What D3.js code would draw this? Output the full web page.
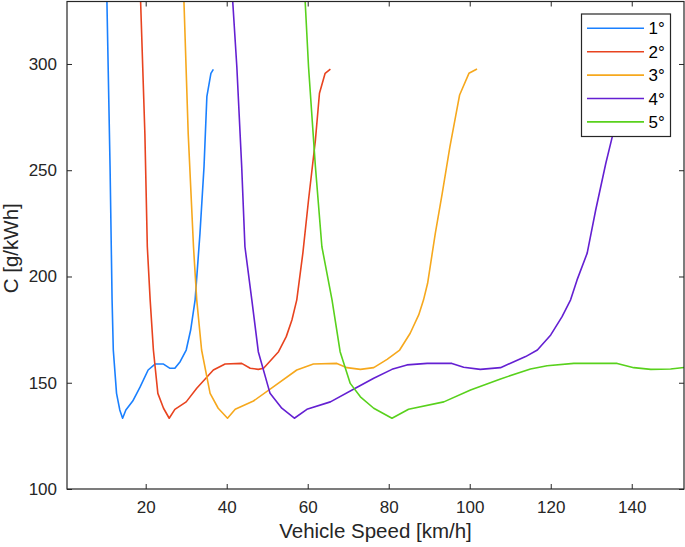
<!DOCTYPE html>
<html>
<head>
<meta charset="utf-8">
<script src="https://cdn.jsdelivr.net/npm/d3@7"></script>
<style>
  html, body { margin: 0; padding: 0; background: #fff; }
  svg { display: block; font-family: Arial, "Liberation Sans", Helvetica, sans-serif; }
</style>
</head>
<body>
<svg id="chart" width="685" height="547"></svg>
<script>
// ---- data ----
const seriesNames = ["1°", "2°", "3°", "4°", "5°"];
const seriesColors = ["#1a80ff", "#e8431f", "#f6a81d", "#6420d2", "#58d11c"];

const gear1X = [10.4, 11.2, 11.7, 12.0, 12.8, 13.6, 14.3, 15.1, 16.8, 18.6, 20.6, 22.3, 24.4, 26.0, 27.2, 28.5, 30.0, 31.1, 32.2, 33.4, 34.4, 35.1, 36.1, 36.7];
const gear1Y = [332, 251.7, 189, 165.4, 145, 137.2, 133.3, 137.2, 141.4, 147.9, 156, 158.8, 158.8, 156.8, 156.8, 159.9, 165.4, 174.8, 189, 220.3, 251.7, 284.6, 295.6, 297.5];

const gear2X = [18.7, 19.8, 20.4, 21.1, 21.9, 23.0, 24.4, 25.8, 27.2, 30.0, 32.6, 36.7, 39.6, 43.7, 45.8, 47.8, 49.1, 52.8, 54.7, 56.1, 57.3, 58.8, 60.2, 61.9, 62.9, 64.3, 65.6];
const gear2Y = [332, 267, 214, 189, 165.4, 145, 138, 133.3, 137.5, 141, 147.4, 156, 158.8, 159.1, 156.8, 156.3, 156.8, 164.6, 171.7, 179.5, 189, 211, 236, 264.2, 286.2, 295.6, 297.6];

const gear3X = [29.4, 30.5, 31.8, 32.6, 33.8, 35.9, 37.9, 40.2, 42.1, 46.6, 51.5, 57.3, 61.4, 67.2, 69.7, 73.0, 76.3, 79.6, 82.7, 85.3, 87.4, 88.6, 89.6, 91.5, 93.2, 95.1, 96.5, 97.5, 99.8, 101.8];
const gear3Y = [332, 267, 214, 189, 165.4, 145, 138, 133.3, 137.5, 141.4, 148.1, 156, 158.8, 159.1, 157.1, 156.3, 157.1, 161, 165.4, 173.3, 181.9, 189, 196.8, 220.3, 239, 261, 275.2, 285.4, 295.6, 297.6];

const gear4X = [41.4, 42.5, 43.7, 44.5, 46.2, 47.8, 50.7, 53.6, 56.7, 59.8, 65.6, 72.2, 76.3, 80.8, 84.5, 89.5, 95.6, 98.5, 102.6, 107.6, 110.9, 113.8, 116.7, 120.0, 122.8, 124.9, 126.5, 129.0, 131.1, 133.6, 135.2, 137.5, 140.0, 142.5];
const gear4Y = [332, 298.7, 251.7, 214, 189, 164.6, 145, 138, 133.3, 137.5, 141, 147.9, 152.1, 156.3, 158.4, 159.1, 159.1, 157.3, 156.3, 157.1, 159.9, 162.3, 165.4, 172.5, 181.1, 189, 198.4, 211, 231.3, 253.3, 265.8, 285, 295.6, 297.6];

const gear5X = [59.3, 60.2, 61.9, 63.5, 66.0, 68.0, 70.5, 73.0, 76.3, 80.8, 84.9, 93.6, 100.2, 107.6, 115.0, 119.1, 125.7, 136.4, 140.5, 144.7, 149.6, 153.5];
const gear5Y = [332, 298.7, 251.7, 214, 189, 164.6, 149.7, 143.4, 138, 133.3, 137.5, 141, 146.6, 151.8, 156.5, 158, 159.1, 159.1, 157.1, 156.3, 156.5, 157.3];

const xTicks = [20, 40, 60, 80, 100, 120, 140];
const yTicks = [100, 150, 200, 250, 300];
const xDomain = [0.57, 152.9];
const yDomain = [100, 329.4];

const seriesX = [gear1X, gear2X, gear3X, gear4X, gear5X];
const seriesY = [gear1Y, gear2Y, gear3Y, gear4Y, gear5Y];

// ---- layout ----
const L = 67, R = 684, T = 1.5, B = 489;
const axisColor = "#262626";

const svg = d3.select("#chart");
const x = d3.scaleLinear().domain(xDomain).range([L, R]);
const y = d3.scaleLinear().domain(yDomain).range([B, T]);

svg.append("defs").append("clipPath").attr("id", "clip")
  .append("rect").attr("x", L).attr("y", T).attr("width", R - L).attr("height", B - T);

// lines
const line = d3.line().x(d => x(d[0])).y(d => y(d[1]));
const gLines = svg.append("g").attr("clip-path", "url(#clip)");
seriesX.forEach((xs, i) => {
  const pts = xs.map((v, j) => [v, seriesY[i][j]]);
  gLines.append("path").datum(pts)
    .attr("d", line)
    .attr("fill", "none")
    .attr("stroke", seriesColors[i])
    .attr("stroke-width", 1.6)
    .attr("stroke-linejoin", "round");
});

// axes
const tickLen = 5;
const fmt = d3.format("d");
const xAxisB = d3.axisBottom(x).tickValues(xTicks).tickSize(-tickLen).tickPadding(12).tickFormat(fmt);
const xAxisT = d3.axisTop(x).tickValues(xTicks).tickSize(-tickLen).tickFormat("");
const yAxisL = d3.axisLeft(y).tickValues(yTicks).tickSize(-tickLen).tickPadding(10).tickFormat(fmt);
const yAxisR = d3.axisRight(y).tickValues(yTicks).tickSize(-tickLen).tickFormat("");

function style(g) {
  g.select(".domain").remove();
  g.selectAll(".tick line").attr("stroke", axisColor).attr("stroke-width", 1);
  g.selectAll(".tick text").attr("fill", axisColor).style("font-size", "17px")
    .style("font-family", "Arial, 'Liberation Sans', sans-serif");
}
svg.append("g").attr("transform", `translate(0,${B})`).call(xAxisB).call(style);
svg.append("g").attr("transform", `translate(0,${T})`).call(xAxisT).call(style);
svg.append("g").attr("transform", `translate(${L},0)`).call(yAxisL).call(style);
svg.append("g").attr("transform", `translate(${R},0)`).call(yAxisR).call(style);

// box
svg.append("rect").attr("x", L).attr("y", T).attr("width", R - L).attr("height", B - T)
  .attr("fill", "none").attr("stroke", axisColor).attr("stroke-width", 1.2);

// axis labels
svg.append("text").attr("x", (L + R) / 2).attr("y", 537.5)
  .attr("text-anchor", "middle").attr("fill", axisColor)
  .style("font-size", "20.5px").text("Vehicle Speed [km/h]");
svg.append("text")
  .attr("transform", `translate(17.5,${(T + B) / 2 + 3}) rotate(-90)`)
  .attr("text-anchor", "middle").attr("fill", axisColor)
  .style("font-size", "20.5px").text("C [g/kWh]");

// legend
const lg = svg.append("g");
lg.append("rect").attr("x", 581.5).attr("y", 14).attr("width", 89).attr("height", 122.5)
  .attr("fill", "#fff").attr("stroke", axisColor).attr("stroke-width", 1.2);
seriesNames.forEach((name, i) => {
  const cy = 28.3 + i * 23.4;
  lg.append("line").attr("x1", 587).attr("x2", 644).attr("y1", cy).attr("y2", cy)
    .attr("stroke", seriesColors[i]).attr("stroke-width", 1.6);
  lg.append("text").attr("x", 648.5).attr("y", cy + 6)
    .attr("fill", "#000").style("font-size", "17px").text(name);
});
</script>
</body>
</html>
